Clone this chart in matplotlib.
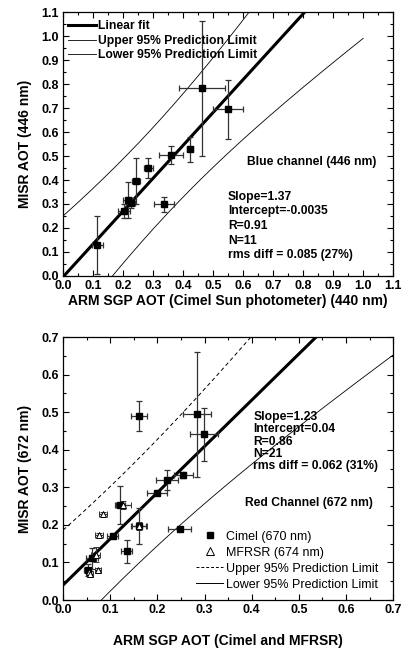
import numpy as np
import matplotlib
matplotlib.use('Agg')
import matplotlib.pyplot as plt
from matplotlib.lines import Line2D
from matplotlib.ticker import MultipleLocator

plt.rcParams['font.family'] = ['Liberation Sans', 'DejaVu Sans']

# blue channel (446 nm), Cimel sun photometer 440 nm
blue_x = [0.462, 0.549, 0.424, 0.360, 0.284, 0.243, 0.215, 0.225, 0.204, 0.337, 0.114]
blue_y = [0.782, 0.695, 0.528, 0.504, 0.451, 0.396, 0.315, 0.305, 0.272, 0.299, 0.128]
blue_xerr = [0.077, 0.050, 0.010, 0.040, 0.014, 0.012, 0.014, 0.014, 0.020, 0.033, 0.018]
blue_yerr = [0.280, 0.123, 0.052, 0.037, 0.041, 0.094, 0.075, 0.020, 0.030, 0.032, 0.120]
blue_fit = (1.37, -0.0035)
# prediction band: t*s, n, mean x, Sxx
blue_pred = (0.2027, 11, 0.31, 0.202)

# red channel (672 nm)
cimel_x = [0.160, 0.284, 0.299, 0.255, 0.221, 0.199, 0.247, 0.121, 0.160, 0.105, 0.135, 0.061, 0.052]
cimel_y = [0.491, 0.494, 0.441, 0.334, 0.319, 0.284, 0.188, 0.253, 0.197, 0.171, 0.130, 0.111, 0.080]
cimel_xerr = [0.017, 0.030, 0.030, 0.020, 0.023, 0.021, 0.025, 0.010, 0.016, 0.012, 0.012, 0.012, 0.008]
cimel_yerr = [0.040, 0.167, 0.070, 0.008, 0.026, 0.005, 0.005, 0.051, 0.047, 0.005, 0.031, 0.028, 0.015]

mfrsr_x = [0.128, 0.085, 0.076, 0.069, 0.074, 0.054, 0.162, 0.058]
mfrsr_y = [0.253, 0.228, 0.173, 0.120, 0.080, 0.075, 0.197, 0.068]
mfrsr_xerr = [0.016, 0.008, 0.008, 0.010, 0.006, 0.006, 0.016, 0.006]
mfrsr_yerr = [0.010, 0.005, 0.005, 0.020, 0.005, 0.012, 0.010, 0.008]

red_fit = (1.23, 0.04)
red_pred = (0.1357, 21, 0.125, 0.1428)


def band(xx, fit, pred):
    slope, icpt = fit
    ts, n, xm, sxx = pred
    yy = icpt + slope * xx
    hw = ts * np.sqrt(1 + 1.0 / n + (xx - xm) ** 2 / sxx)
    return yy, yy + hw, yy - hw


def style_axes(ax, lim, major):
    ax.set_xlim(0, lim)
    ax.set_ylim(0, lim)
    ax.xaxis.set_major_locator(MultipleLocator(major))
    ax.yaxis.set_major_locator(MultipleLocator(major))
    ax.xaxis.set_minor_locator(MultipleLocator(major / 2))
    ax.yaxis.set_minor_locator(MultipleLocator(major / 2))
    ax.tick_params(which='both', direction='in', top=True, right=True, width=0.8)
    ax.tick_params(which='major', length=4, labelsize=9, pad=3)
    ax.tick_params(which='minor', length=2)
    ax.xaxis.set_major_formatter('{x:.1f}')
    ax.yaxis.set_major_formatter('{x:.1f}')
    for lab in ax.get_xticklabels() + ax.get_yticklabels():
        lab.set_fontweight('bold')
    for sp in ax.spines.values():
        sp.set_linewidth(0.9)


fig = plt.figure(figsize=(4.02, 6.5), dpi=100)
ax1 = fig.add_axes([0.157, 0.5754, 0.821, 0.4061])
ax2 = fig.add_axes([0.157, 0.0769, 0.821, 0.4046])

# ---- top panel
xx = np.linspace(0, 1.0, 200)
yfit, yup, ylo = band(xx, blue_fit, blue_pred)
ax1.plot(xx, yfit, color='k', lw=2.2, label='Linear fit')
ax1.plot(xx, yup, color='k', lw=0.6, label='Upper 95% Prediction Limit')
ax1.plot(xx, ylo, color='k', lw=0.6, label='Lower 95% Prediction Limit')
ax1.errorbar(blue_x, blue_y, xerr=blue_xerr, yerr=blue_yerr, fmt='s', color='k',
             ms=4.5, ecolor='#333333', elinewidth=0.9, capsize=2.2, capthick=0.9)
style_axes(ax1, 1.1, 0.1)
ax1.set_xlabel('ARM SGP AOT (Cimel Sun photometer) (440 nm)', fontsize=10,
               fontweight='bold', labelpad=1.5)
ax1.set_ylabel('MISR AOT (446 nm)', fontsize=10, fontweight='bold', labelpad=7)
leg1 = ax1.legend(loc='upper left', frameon=False, handlelength=2.3, handletextpad=0.2,
                  labelspacing=0.2, borderaxespad=0.0, borderpad=0.7,
                  bbox_to_anchor=(-0.01, 1.0),
                  prop={'weight': 'bold', 'size': 8.7})
ax1.text(0.95, 0.42, 'Blue channel (446 nm)', transform=ax1.transAxes, ha='right',
         fontsize=8.7, fontweight='bold')
ax1.text(0.50, 0.055, 'Slope=1.37\nIntercept=-0.0035\nR=0.91\nN=11\nrms diff = 0.085 (27%)',
         transform=ax1.transAxes, ha='left', va='bottom', fontsize=8.7,
         fontweight='bold', linespacing=1.3)

# ---- bottom panel
xx2 = np.linspace(0, 0.7, 200)
yfit2, yup2, ylo2 = band(xx2, red_fit, red_pred)
ax2.plot(xx2, yfit2, color='k', lw=2.2)
ax2.plot(xx2, yup2, color='k', lw=0.7, ls=(0, (4, 3)))
ax2.plot(xx2, ylo2, color='k', lw=0.6)
ax2.errorbar(cimel_x, cimel_y, xerr=cimel_xerr, yerr=cimel_yerr, fmt='s', color='k',
             ms=4.5, ecolor='#333333', elinewidth=0.9, capsize=2.2, capthick=0.9)
ax2.errorbar(mfrsr_x, mfrsr_y, xerr=mfrsr_xerr, yerr=mfrsr_yerr, fmt='^', mfc='white',
             mec='k', mew=0.7, ms=5, ecolor='#333333', elinewidth=0.9, capsize=2.2,
             capthick=0.9)
ax2.plot(cimel_x + mfrsr_x, cimel_y + mfrsr_y, 'o', color='#2ec4c4', ms=1.6, mew=0)
style_axes(ax2, 0.7, 0.1)
ax2.set_xlabel('ARM SGP AOT (Cimel and MFRSR)', fontsize=10, fontweight='bold', labelpad=13)
ax2.set_ylabel('MISR AOT (672 nm)', fontsize=10, fontweight='bold', labelpad=7)
handles = [Line2D([], [], ls='none', marker='s', color='k', ms=4),
           Line2D([], [], ls='none', marker='^', mfc='white', mec='k', mew=0.7, ms=6),
           Line2D([], [], color='k', lw=0.7, ls=(0, (3, 2))),
           Line2D([], [], color='k', lw=0.7)]
labels = ['Cimel (670 nm)', 'MFRSR (674 nm)', 'Upper 95% Prediction Limit',
          'Lower 95% Prediction Limit']
ax2.legend(handles, labels, loc='lower right', frameon=False, fontsize=9,
           handlelength=2.2, handletextpad=0.2, labelspacing=0.32,
           bbox_to_anchor=(0.955, 0.035), borderaxespad=0.0, borderpad=0.0)
ax2.text(0.94, 0.37, 'Red Channel (672 nm)', transform=ax2.transAxes, ha='right',
         va='center', fontsize=8.7, fontweight='bold')
ax2.text(0.576, 0.72, 'Slope=1.23\nIntercept=0.04\nR=0.86\nN=21\nrms diff = 0.062 (31%)',
         transform=ax2.transAxes, ha='left', va='top', fontsize=8.7,
         fontweight='bold', linespacing=1.05)

fig.savefig('out.png', dpi=100)
